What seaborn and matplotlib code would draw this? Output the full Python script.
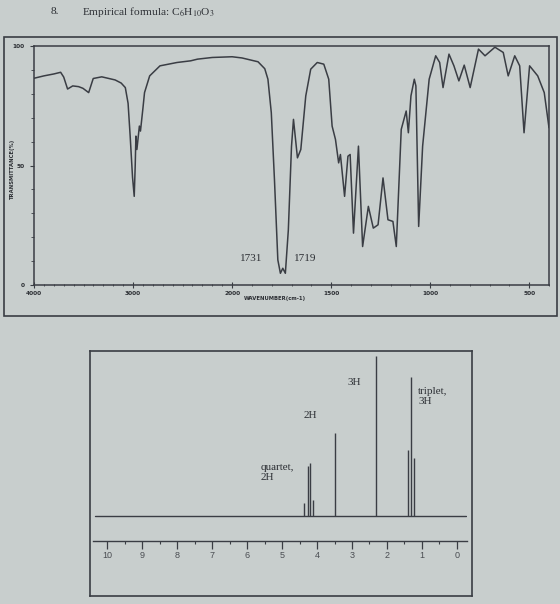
import numpy as np
import matplotlib
matplotlib.use("Agg")
import matplotlib.pyplot as plt
import seaborn as sns
from matplotlib.patches import Rectangle
from matplotlib.ticker import FixedLocator, MultipleLocator

# page heading
title_num = "8."
title_text = r"Empirical formula: C$_6$H$_{10}$O$_3$"

# IR trace (wavenumber in cm-1, transmittance in %)
ir_wavenumber = [4000, 3900, 3800, 3731, 3700, 3661, 3609, 3550, 3506, 3448,
                 3402, 3316, 3181, 3120, 3078, 3050, 3029, 3005, 2988, 2978,
                 2971, 2961, 2936, 2925, 2900, 2884, 2832, 2728, 2556, 2418,
                 2349, 2200, 2000, 1950, 1869, 1835, 1819, 1802, 1786, 1769,
                 1756, 1744, 1731, 1716, 1700, 1690, 1670, 1653, 1628, 1603,
                 1570, 1537, 1512, 1495, 1478, 1462, 1453, 1432, 1415, 1404,
                 1387, 1362, 1341, 1312, 1287, 1263, 1238, 1213, 1188, 1171,
                 1146, 1121, 1110, 1097, 1080, 1072, 1058, 1038, 1005, 972,
                 952, 935, 905, 880, 855, 828, 798, 756, 723, 673,
                 631, 606, 573, 548, 526, 498, 457, 424, 400]
ir_transmittance = [86.5, 87.5, 88.3, 89, 87, 82, 83.3, 83, 82.3, 80.5,
                    86.4, 87.1, 85.8, 84.5, 82.6, 76, 62.3, 45, 37.1, 50,
                    62.3, 56.7, 66.5, 64.4, 74, 80.5, 87.5, 91.7, 93.1, 93.8,
                    94.5, 95.2, 95.5, 95, 93.4, 90.5, 86.1, 72.1, 44, 10.5,
                    4.9, 7, 4.9, 23, 58, 69.3, 53.2, 56.7, 79.1, 90.3,
                    93.1, 92.4, 86.1, 66.5, 60.9, 51.1, 54.6, 37.1, 53.9, 54.6,
                    21.7, 58.1, 16.1, 32.9, 23.8, 25.2, 44.8, 27.3, 26.6, 16.1,
                    65.1, 72.8, 63.7, 79.1, 86.1, 83.3, 24.5, 58.1, 86.1, 95.9,
                    93.1, 82.6, 96.6, 91.7, 85.4, 92, 82.6, 98.7, 95.9, 99.5,
                    97.3, 87.5, 95.9, 91.7, 63.7, 91.7, 87.5, 80.5, 65.8]
ir_major_ticks = [4000, 3000, 2000, 1500, 1000, 500]
ir_peak_labels = ["1731", "1719"]
ir_peak_label_x = [1905, 1630]
ir_peak_label_y = [11, 11]

# 1H NMR lines (ppm, relative height)
nmr_ppm = [4.36, 4.27, 4.19, 4.12, 3.49, 2.32, 1.39, 1.31, 1.23]
nmr_height = [8, 31, 33, 10, 52, 100, 41, 87, 36]
nmr_baseline_ppm = [10.35, -0.25]
nmr_ticks = list(range(0, 11))
nmr_labels = ["quartet,\n2H", "2H", "3H", "triplet,\n3H"]
nmr_label_x = [5.6, 4.38, 3.12, 1.11]
nmr_label_y = [33, 65.6, 86, 80.6]

W, H = 560, 604
paper = "#c8cecd"
ink = "#3a3d44"

sns.set_style("ticks")
plt.rcParams["mathtext.fontset"] = "stix"


def box(left, top, right, bottom):
    # pixel box -> figure fraction rect
    return [left / W, 1 - bottom / H, (right - left) / W, (bottom - top) / H]


def fwd(w):
    w = np.asarray(w, dtype=float)
    return np.where(w >= 2000, w, 2 * w - 2000)


def inv(v):
    v = np.asarray(v, dtype=float)
    return np.where(v >= 2000, v, (v + 2000) / 2)


fig = plt.figure(figsize=(W / 100, H / 100), dpi=100)
fig.patch.set_facecolor(paper)

fig.text(51 / W, 1 - 12 / H, title_num, family="Liberation Serif", fontsize=8.2,
         color="#2b2e33", va="center")
fig.text(82 / W, 1 - 12 / H, title_text, family="Liberation Serif", fontsize=8.2,
         color="#2b2e33", va="center")

# outer frame around the IR chart
fig.add_artist(Rectangle((4 / W, 1 - 316 / H), 553 / W, 279 / H, transform=fig.transFigure,
                         fill=False, lw=1.2, ec=ink))

# ---- IR spectrum ----
ax = fig.add_axes(box(34, 46, 549, 285))
ax.set_facecolor("none")
sns.lineplot(x=ir_wavenumber, y=ir_transmittance, ax=ax, color=ink, lw=1.1,
             estimator=None)
ax.set_xscale("function", functions=(fwd, inv))
ax.set_xlim(4000, 400)
ax.set_ylim(0, 100)
ax.xaxis.set_major_locator(FixedLocator(ir_major_ticks))
ax.xaxis.set_minor_locator(FixedLocator(list(range(400, 4001, 100))))
ax.set_xticklabels([str(t) for t in ir_major_ticks], fontsize=4.2, fontweight="bold",
                   color="#2b2e33")
ax.set_yticks([0, 50, 100])
ax.set_yticklabels(["0", "50", "100"], fontsize=4.2, fontweight="bold", color="#2b2e33")
ax.yaxis.set_minor_locator(MultipleLocator(10))
ax.tick_params(axis="x", which="major", direction="inout", length=4, width=0.8, pad=2, color=ink)
ax.tick_params(axis="x", which="minor", direction="inout", length=2, width=0.6, color=ink)
ax.tick_params(axis="y", which="major", direction="out", length=3, width=0.8, pad=4, color=ink)
ax.tick_params(axis="y", which="minor", direction="out", length=2, width=0.6, color=ink)
for s in ax.spines.values():
    s.set_color(ink)
    s.set_linewidth(1.1)
ax.set_xlabel("WAVENUMBER(cm-1)", fontsize=3.8, fontweight="bold", color="#2b2e33")
ax.xaxis.set_label_coords(0.468, -0.045)
ax.set_ylabel("TRANSMITTANCE(%)", fontsize=3.8, fontweight="bold", color="#2b2e33")
ax.yaxis.set_label_coords(-0.037, 0.48)
for lab, x, y in zip(ir_peak_labels, ir_peak_label_x, ir_peak_label_y):
    ax.text(x, y, lab, family="Liberation Serif", fontsize=8, color="#2b2e33",
            ha="center", va="center")

# ---- NMR spectrum ----
frame = fig.add_axes(box(90, 351, 472, 596))
frame.set_facecolor("none")
frame.set_xticks([])
frame.set_yticks([])
for s in frame.spines.values():
    s.set_color(ink)
    s.set_linewidth(1.2)

nx = fig.add_axes(box(93, 352, 467.5, 541))
nx.set_facecolor("none")
sns.lineplot(x=nmr_baseline_ppm, y=[0, 0], ax=nx, color=ink, lw=1.0, estimator=None)
nx.vlines(nmr_ppm, 0, nmr_height, color=ink, lw=1.0)
nx.set_xlim(10.4, -0.3)
nx.set_ylim(-15.6, 102.5)
nx.set_xticks(nmr_ticks)
nx.set_xticklabels([str(t) for t in nmr_ticks], fontsize=6.5, color="#4a4d52",
                   family="Liberation Sans")
nx.xaxis.set_minor_locator(MultipleLocator(0.5))
nx.tick_params(axis="x", which="major", direction="out", length=5.5, width=0.9, pad=1.5, color=ink)
nx.tick_params(axis="x", which="minor", direction="out", length=2.5, width=0.8, color=ink)
nx.set_yticks([])
for side in ["top", "left", "right"]:
    nx.spines[side].set_visible(False)
nx.spines["bottom"].set_color(ink)
nx.spines["bottom"].set_linewidth(1.0)
for lab, x, y in zip(nmr_labels, nmr_label_x, nmr_label_y):
    nx.text(x, y, lab, family="Liberation Serif", fontsize=8, color="#2b2e33",
            ha="left", va="top", linespacing=1.15)

fig.savefig("out.png", dpi=100, facecolor=fig.get_facecolor())
